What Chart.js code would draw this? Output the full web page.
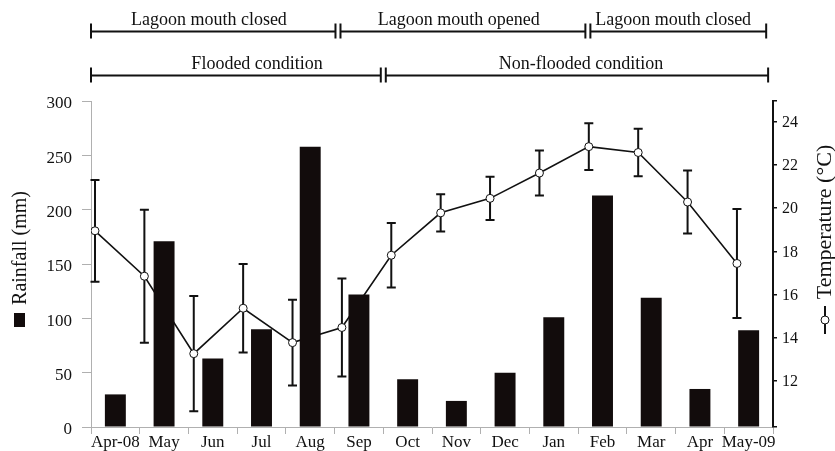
<!DOCTYPE html>
<html><head><meta charset="utf-8">
<script src="https://cdn.jsdelivr.net/npm/chart.js@4/dist/chart.umd.min.js"></script>
<style>html,body{margin:0;padding:0;background:#fff;}#wrap{width:835px;height:451px;position:relative;}canvas{display:block;}</style>
</head><body><div id="wrap"><canvas id="c" width="835" height="451" style="width:835px;height:451px"></canvas></div>
<script>
const months = ['Apr-08','May','Jun','Jul','Aug','Sep','Oct','Nov','Dec','Jan','Feb','Mar','Apr','May-09'];
const rainfall = [30,171,63,90,258,122,44,24,50,101,213,119,35,89];
const temperature = [18.95,16.85,13.27,15.37,13.78,14.48,17.82,19.78,20.45,21.62,22.84,22.57,20.28,17.44];
const tempError = [2.35,3.07,2.66,2.05,1.98,2.27,1.49,0.86,1.0,1.04,1.08,1.1,1.46,2.52];
const rainTicks = [0,50,100,150,200,250,300];
const tempTicks = [12,14,16,18,20,22,24];
// period annotations, in month units along the category axis
const lagoonLabels = ['Lagoon mouth closed','Lagoon mouth opened','Lagoon mouth closed'];
const lagoonBreaks = [0, 5.07, 10.2, 13.86];
const lagoonLabelAt = [2.42, 7.55, 11.95];
const floodLabels = ['Flooded condition','Non-flooded condition'];
const floodBreaks = [0, 6.0, 13.9];
const floodLabelAt = [3.41, 10.06];

const SERIF = '"Liberation Serif", "Times New Roman", serif';
const INK = '#111';
const TEMP_MIN = 9.88, TEMP_MAX = 24.95;

const deco = {
  id:'deco',
  beforeDatasetsDraw(chart){
    const ctx = chart.ctx, xs = chart.scales.x2, ys = chart.scales.y1;
    ctx.save();
    ctx.strokeStyle = INK; ctx.lineWidth = 2;
    temperature.forEach((t,i)=>{
      const x = xs.getPixelForValue(i);
      const yt = ys.getPixelForValue(t + tempError[i]);
      const yb = ys.getPixelForValue(t - tempError[i]);
      ctx.beginPath();
      ctx.moveTo(x, yt); ctx.lineTo(x, yb);
      ctx.moveTo(x-4.5, yt); ctx.lineTo(x+4.5, yt);
      ctx.moveTo(x-4.5, yb); ctx.lineTo(x+4.5, yb);
      ctx.stroke();
    });
    ctx.restore();
  },
  afterDraw(chart){
    const ctx = chart.ctx, xa = chart.scales.x;
    const unit = xa.width / months.length;
    const px = v => xa.left + v*unit;
    ctx.save();
    ctx.fillStyle = INK; ctx.strokeStyle = INK;
    const row = (breaks, labels, at, y, ty) => {
      ctx.lineWidth = 2;
      for (let i=0;i<labels.length;i++){
        const a = px(breaks[i]) + (i>0?2.5:0);
        const b = px(breaks[i+1]) - (i<labels.length-1?2.5:0);
        ctx.beginPath();
        ctx.moveTo(a, y); ctx.lineTo(b, y);
        ctx.moveTo(a, y-8); ctx.lineTo(a, y+7);
        ctx.moveTo(b, y-8); ctx.lineTo(b, y+7);
        ctx.stroke();
        ctx.font = '18px ' + SERIF;
        ctx.textAlign = 'center'; ctx.textBaseline = 'alphabetic';
        ctx.fillText(labels[i], px(at[i]), ty);
      }
    };
    row(lagoonBreaks, lagoonLabels, lagoonLabelAt, 31.5, 25);
    row(floodBreaks, floodLabels, floodLabelAt, 75.5, 69);

    // left title
    ctx.save();
    ctx.translate(21, 248); ctx.rotate(-Math.PI/2);
    ctx.font = '20px ' + SERIF; ctx.textAlign='center'; ctx.textBaseline='middle';
    ctx.fillText('Rainfall (mm)', 0, 0);
    ctx.restore();
    ctx.fillStyle = '#120c0c';
    ctx.fillRect(14, 313, 11, 14);

    // right title
    ctx.fillStyle = INK;
    ctx.save();
    ctx.translate(825, 222); ctx.rotate(-Math.PI/2);
    ctx.font = '22px ' + SERIF; ctx.textAlign='center'; ctx.textBaseline='middle';
    ctx.fillText('Temperature (\u00B0C)', 0, 0);
    ctx.restore();
    ctx.lineWidth = 2;
    ctx.beginPath(); ctx.moveTo(825, 306); ctx.lineTo(825, 334); ctx.stroke();
    ctx.beginPath(); ctx.arc(825, 320, 4, 0, Math.PI*2);
    ctx.fillStyle = '#fff'; ctx.fill(); ctx.lineWidth = 1; ctx.stroke();
    ctx.restore();
  }
};

new Chart(document.getElementById('c'), {
  type:'bar',
  data:{
    labels: months,
    datasets:[
      {type:'bar', label:'Rainfall (mm)', data: rainfall, backgroundColor:'#120c0c', borderWidth:0,
       grouped:false, barPercentage:0.86, categoryPercentage:0.5, xAxisID:'x', yAxisID:'y', order:0},
      {type:'line', label:'Temperature (\u00B0C)', data: temperature.map((t,i)=>({x:i,y:t})),
       xAxisID:'x2', yAxisID:'y1', borderColor:INK, borderWidth:1.6, pointRadius:4,
       pointBackgroundColor:'#fff', pointBorderColor:INK, pointBorderWidth:1, tension:0, fill:false, order:1}
    ]
  },
  options:{
    responsive:false, animation:false, devicePixelRatio:1,
    layout:{padding:{top:101, left:0, right:0, bottom:0}},
    plugins:{legend:{display:false}, tooltip:{enabled:false}},
    scales:{
      x:{type:'category', offset:true, position:'bottom',
         grid:{display:true, offset:true, drawOnChartArea:false, drawTicks:true, tickLength:7, color:'#b0b0b0', lineWidth:1},
         border:{display:true, color:'#b0b0b0', width:1},
         ticks:{color:INK, font:{family:SERIF, size:17}, padding:-2, maxRotation:0, autoSkip:false},
         afterFit(s){ s.height = 24; }},
      x2:{type:'linear', display:false, offset:false, grid:{offset:false}, min:-0.081, max:13.73},
      y:{position:'left', min:0, max:300,
         afterBuildTicks(s){ s.ticks = rainTicks.map(v=>({value:v})); },
         grid:{drawOnChartArea:false, drawTicks:true, tickLength:9, color:'#b0b0b0'},
         border:{display:true, color:'#b0b0b0', width:1},
         ticks:{color:INK, font:{family:SERIF, size:17}, padding:10, labelOffset:3},
         afterFit(s){ s.width = 91; }},
      y1:{position:'right', min:TEMP_MIN, max:TEMP_MAX,
         afterBuildTicks(s){ s.ticks = [TEMP_MIN, ...tempTicks, TEMP_MAX].map(v=>({value:v})); },
         grid:{drawOnChartArea:false, drawTicks:true, tickLength:4, color:INK, lineWidth:1.5},
         border:{display:true, color:INK, width:2},
         ticks:{color:INK, font:{family:SERIF, size:16}, padding:5, labelOffset:1,
                callback(v){ return tempTicks.includes(v) ? String(v) : ''; }},
         afterFit(s){ s.width = 62; }}
    }
  },
  plugins:[deco]
});
</script></body></html>
